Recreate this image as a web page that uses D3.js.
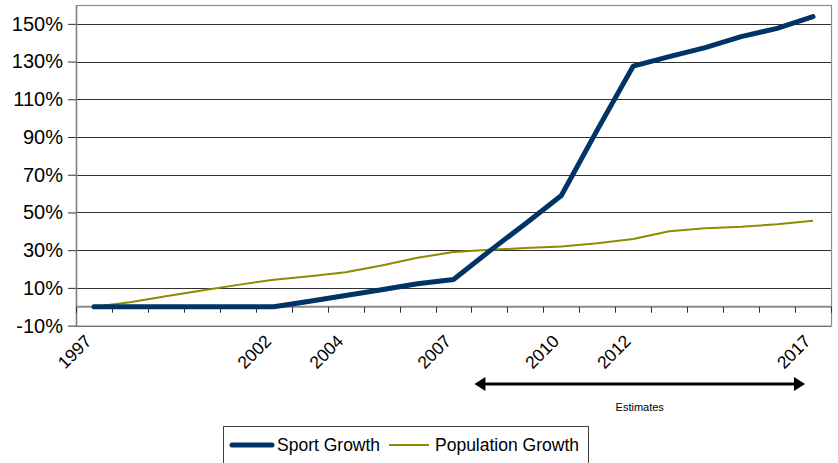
<!DOCTYPE html>
<html>
<head>
<meta charset="utf-8">
<script src="https://cdn.jsdelivr.net/npm/d3@7"></script>
<style>
  html, body { margin: 0; padding: 0; background: #fff; }
  svg { display: block; font-family: "Liberation Sans", Arial, sans-serif; }
</style>
</head>
<body>
<svg id="chart" width="838" height="463"></svg>
<script>
const years = ["1997","1998","1999","2000","2001","2002","2003","2004","2005","2006","2007",
               "2008","2009","2010","2011","2012","2013","2014","2015","2016","2017"];
const sportGrowth = [0,0,0,0,0,0,2.9,6,9,12.2,14.4,29.5,44,59,93.8,127.6,132.6,137.4,143.2,147.6,153.8];
const populationGrowth = [0,2.4,5.6,8.6,11.6,14.3,16.2,18.3,21.9,26,29,30.2,31.1,32,33.7,35.9,40,41.6,42.4,43.7,45.6];
const yTicks = [-10,10,30,50,70,90,110,130,150];
const xLabels = ["1997","2002","2004","2007","2010","2012","2017"];
const seriesNames = ["Sport Growth","Population Growth"];
const estimateLabel = "Estimates";
const estimateRange = ["2008","2017"];

const svg = d3.select("#chart");
const L = 76, R = 831, T = 5, B = 325.6;

const x = d3.scaleBand().domain(years).range([L, R]).padding(0);
const cx = d => x(d) + x.bandwidth() / 2;
const y = d3.scaleLinear().domain([-10, 160]).range([B, T]);

// gridlines
svg.append("g").selectAll("line").data(yTicks).join("line")
  .attr("x1", L).attr("x2", R)
  .attr("y1", d => Math.round(y(d)) + 0.5).attr("y2", d => Math.round(y(d)) + 0.5)
  .attr("stroke", "#303030").attr("stroke-width", 1);

// plot border
svg.append("rect")
  .attr("x", L + 0.5).attr("y", T + 0.5)
  .attr("width", R - L).attr("height", B - T)
  .attr("fill", "none").attr("stroke", "#8c8c8c").attr("stroke-width", 1.2);

// y axis
const yAxis = d3.axisLeft(y).tickValues(yTicks).tickFormat(d => d + "%").tickSize(8).tickSizeOuter(0);
const gy = svg.append("g").attr("transform", `translate(${L},0)`).call(yAxis);
gy.select(".domain").attr("stroke", "#808080").attr("stroke-width", 1.5);
gy.selectAll(".tick line").attr("stroke", "#303030");
gy.selectAll(".tick text").attr("font-size", 20).attr("fill", "#000")
  .attr("font-family", "Liberation Sans, Arial, sans-serif").attr("x", -13);

// category axis at 0%
const y0 = y(0);
const tickPositions = years.map(d => x(d)).concat([R]);
svg.append("line").attr("x1", L).attr("x2", R).attr("y1", y0).attr("y2", y0)
  .attr("stroke", "#8c8c8c").attr("stroke-width", 2);
svg.append("g").selectAll("line").data(tickPositions).join("line")
  .attr("x1", d => Math.round(d) + 0.5).attr("x2", d => Math.round(d) + 0.5)
  .attr("y1", y0).attr("y2", y0 + 6)
  .attr("stroke", "#303030").attr("stroke-width", 1);

// x labels
svg.append("g").selectAll("text").data(xLabels).join("text")
  .attr("transform", d => `translate(${cx(d) - 10},${B + 8}) rotate(-45)`)
  .attr("text-anchor", "end").attr("dy", "0.7em")
  .attr("font-size", 17.5).attr("fill", "#000")
  .text(d => d);

// lines
const line = d3.line().x((d, i) => cx(years[i])).y(d => y(d));
svg.append("path").datum(populationGrowth)
  .attr("d", line).attr("fill", "none")
  .attr("stroke", "#8c8c00").attr("stroke-width", 2);
svg.append("path").datum(sportGrowth)
  .attr("d", line).attr("fill", "none")
  .attr("stroke", "#003366").attr("stroke-width", 5)
  .attr("stroke-linejoin", "round").attr("stroke-linecap", "round");

// estimates arrow
const ax1 = cx(estimateRange[0]) - 15, ax2 = cx(estimateRange[1]) - 8, ay = 384;
svg.append("line").attr("x1", ax1 + 8).attr("x2", ax2 - 8).attr("y1", ay).attr("y2", ay)
  .attr("stroke", "#000").attr("stroke-width", 3);
svg.append("path").attr("d", `M${ax1},${ay} L${ax1 + 11},${ay - 7} L${ax1 + 11},${ay + 7} Z`).attr("fill", "#000");
svg.append("path").attr("d", `M${ax2},${ay} L${ax2 - 11},${ay - 7} L${ax2 - 11},${ay + 7} Z`).attr("fill", "#000");
svg.append("text").attr("x", (ax1 + ax2) / 2).attr("y", 411)
  .attr("text-anchor", "middle").attr("font-size", 11).attr("fill", "#000")
  .text(estimateLabel);

// legend
const lg = svg.append("g");
lg.append("rect").attr("x", 223.5).attr("y", 426.5).attr("width", 365).attr("height", 50)
  .attr("fill", "#fff").attr("stroke", "#404040").attr("stroke-width", 1);
lg.append("line").attr("x1", 232).attr("x2", 272).attr("y1", 445).attr("y2", 445)
  .attr("stroke", "#003366").attr("stroke-width", 5).attr("stroke-linecap", "round");
lg.append("text").attr("x", 277).attr("y", 451).attr("font-size", 17.5).text(seriesNames[0]);
lg.append("line").attr("x1", 389).attr("x2", 429).attr("y1", 445).attr("y2", 445)
  .attr("stroke", "#8c8c00").attr("stroke-width", 2);
lg.append("text").attr("x", 435).attr("y", 451).attr("font-size", 17.5).text(seriesNames[1]);
</script>
</body>
</html>
